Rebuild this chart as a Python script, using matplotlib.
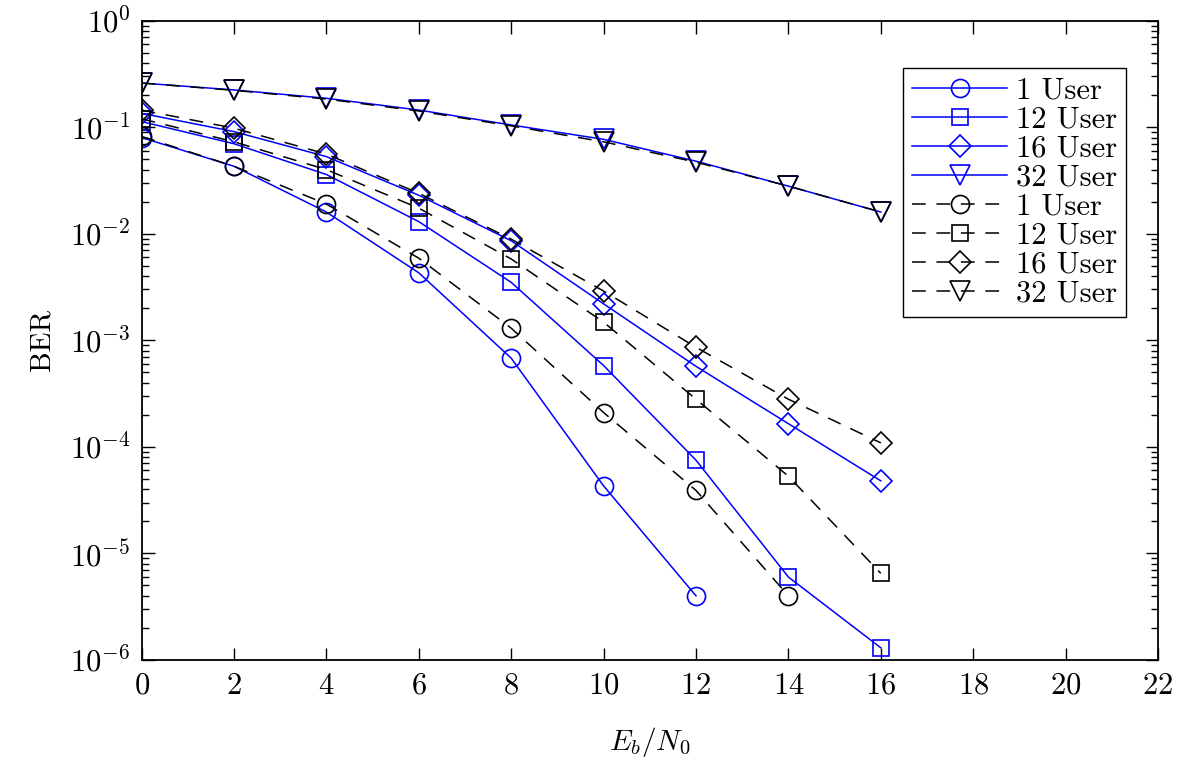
import numpy as np
import matplotlib
matplotlib.use("Agg")
import matplotlib.pyplot as plt

x = [0, 2, 4, 6, 8, 10, 12, 14, 16]

labels = ["1 User", "12 User", "16 User", "32 User"]

# solid blue curves
blue_1 = [0.080, 0.043, 0.016, 0.0043, 6.8e-4, 4.3e-5, 4.0e-6]
blue_12 = [0.113, 0.070, 0.036, 0.013, 0.0035, 5.8e-4, 7.5e-5, 6.0e-6, 1.3e-6]
blue_16 = [0.135, 0.091, 0.053, 0.023, 0.0086, 0.0022, 5.7e-4, 1.65e-4, 4.8e-5]
blue_32 = [0.26, 0.224, 0.187, 0.145, 0.105, 0.077, 0.048, 0.028, 0.016]

# dashed black curves
black_1 = [0.082, 0.043, 0.019, 0.0059, 0.0013, 2.1e-4, 3.9e-5, 4.0e-6]
black_12 = [0.12, 0.073, 0.040, 0.0174, 0.0058, 0.00148, 2.8e-4, 5.3e-5, 6.5e-6]
black_16 = [0.145, 0.098, 0.056, 0.024, 0.0089, 0.0029, 8.6e-4, 2.8e-4, 1.09e-4]
black_32 = [0.26, 0.222, 0.184, 0.142, 0.103, 0.073, 0.047, 0.028, 0.016]

xticks = list(range(0, 23, 2))

plt.rcParams['font.family'] = 'serif'
plt.rcParams['font.serif'] = ['cmr10', 'DejaVu Serif']
plt.rcParams['mathtext.fontset'] = 'cm'
plt.rcParams['axes.formatter.use_mathtext'] = True

fig = plt.figure(figsize=(12, 7.81), dpi=100)
ax = fig.add_axes([0.118, 0.155, 0.847, 0.8185])

blue = '#0000ff'
markers = ['o', 's', 'D', 'v']
msizes = [13, 11, 11, 14]
blues = [blue_1, blue_12, blue_16, blue_32]
blacks = [black_1, black_12, black_16, black_32]

for data, m, ms, lab in zip(blues, markers, msizes, labels):
    ax.plot(x[:len(data)], data, color=blue, lw=1.1, marker=m, ms=ms,
            mfc='none', mec=blue, mew=1.2, label=lab)
for data, m, ms, lab in zip(blacks, markers, msizes, labels):
    ax.plot(x[:len(data)], data, color='black', lw=1.1, ls=(0, (9, 7)),
            marker=m, ms=ms, mfc='none', mec='black', mew=1.2, label=lab)

ax.set_yscale('log')
ax.set_xlim(0, 22)
ax.set_ylim(1e-6, 1)
ax.set_xticks(xticks)
ax.set_yticks([10.0**k for k in range(-6, 1)])
ax.tick_params(which='both', direction='in', top=True, right=True,
               labelsize=22, width=1)
ax.tick_params(which='major', length=9)
ax.tick_params(which='minor', length=5)
ax.tick_params(axis='x', which='major', pad=9)
ax.tick_params(axis='y', which='major', pad=8)
ax.tick_params(axis='x', which='minor', bottom=False, top=False)
for s in ax.spines.values():
    s.set_linewidth(1.3)

ax.set_ylabel('BER', fontsize=21, labelpad=10)
ax.set_xlabel(r'$E_b/N_0$', fontsize=21, labelpad=18)

leg = ax.legend(loc='upper right', bbox_to_anchor=(0.969, 0.926), fontsize=22,
                handlelength=3.1, labelspacing=0.05, handletextpad=0.3,
                borderpad=0.3, borderaxespad=0, fancybox=False, framealpha=1,
                edgecolor='black')
leg.get_frame().set_linewidth(1.0)

fig.savefig('out.png', dpi=100)
